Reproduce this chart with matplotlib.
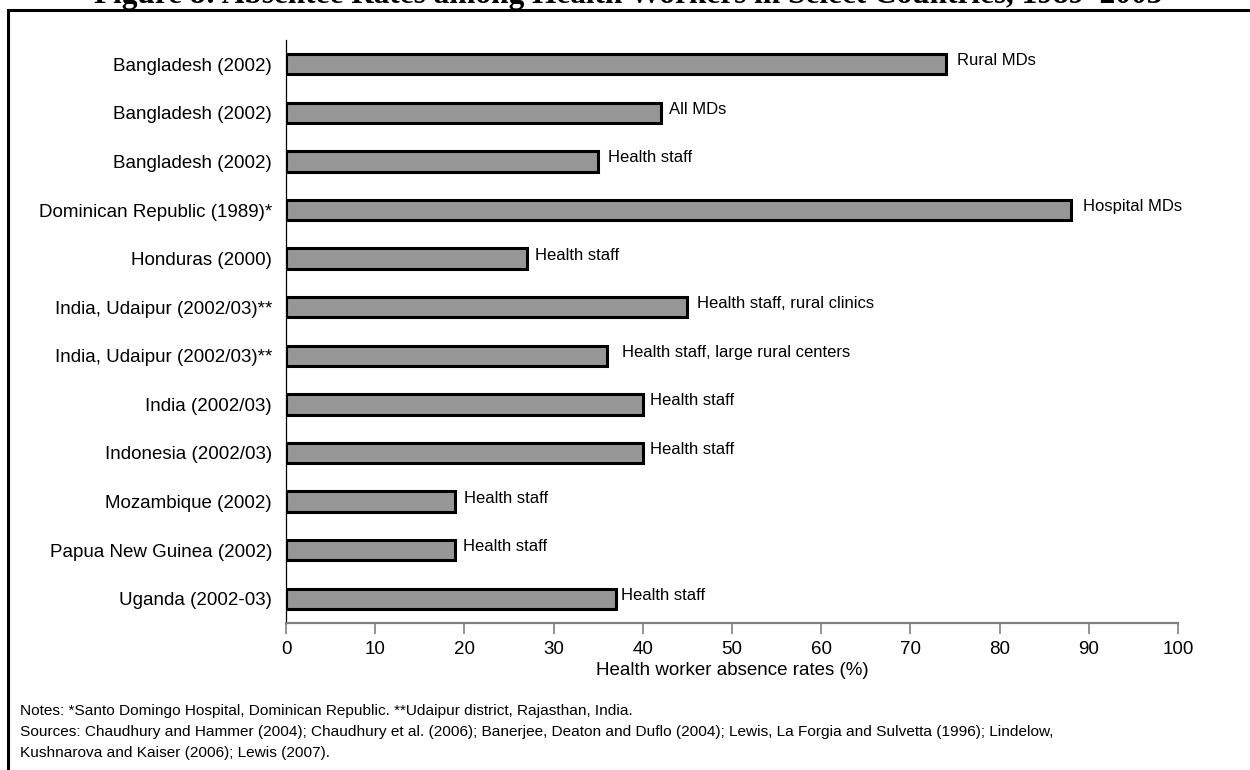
# Horizontal bar chart: health worker absence rates
import matplotlib.pyplot as plt
import matplotlib.patches as mpatches

plt.rcParams['font.family'] = ['Liberation Sans', 'DejaVu Sans']

countries = ['Bangladesh (2002)', 'Bangladesh (2002)', 'Bangladesh (2002)',
             'Dominican Republic (1989)*', 'Honduras (2000)',
             'India, Udaipur (2002/03)**', 'India, Udaipur (2002/03)**',
             'India (2002/03)', 'Indonesia (2002/03)', 'Mozambique (2002)',
             'Papua New Guinea (2002)', 'Uganda (2002-03)']
rates = [74, 42, 35, 88, 27, 45, 36, 40, 40, 19, 19, 37]
groups = ['Rural MDs', 'All MDs', 'Health staff', 'Hospital MDs', 'Health staff',
          'Health staff, rural clinics', 'Health staff, large rural centers',
          'Health staff', 'Health staff', 'Health staff', 'Health staff',
          'Health staff']
# small hand offsets of the labels (in pixels), as in the original
label_dx = [11, 8, 10, 12, 8, 10, 15, 7, 7, 9, 8, 5]

fig = plt.figure(figsize=(12.5, 7.7), dpi=100)
ax = fig.add_axes([286/1250, 1 - 623/770, (1178-286)/1250, (623-40)/770])

pos = list(range(len(countries)))
ax.barh(pos, rates, height=0.42, color='#969696', edgecolor='black',
        linewidth=2.2)
ax.set_ylim(len(countries) - 0.5, -0.5)
ax.set_xlim(0, 100)
ax.set_yticks(pos)
ax.set_yticklabels(countries, fontsize=13.5)
ax.set_xticks(range(0, 101, 10))
ax.tick_params(axis='x', labelsize=13.5, length=8, width=1.2, color='#808080',
               direction='out', pad=5)
ax.tick_params(axis='y', length=0, pad=10)

for i, (v, g) in enumerate(zip(rates, groups)):
    ax.annotate(g, (v, i), xytext=(label_dx[i] * 0.72, 2.5),
                textcoords='offset points', va='center', ha='left', fontsize=12)

for s in ['top', 'right']:
    ax.spines[s].set_visible(False)
ax.spines['left'].set_color('black')
ax.spines['left'].set_linewidth(0.9)
ax.spines['bottom'].set_color('#808080')
ax.spines['bottom'].set_linewidth(1.6)

ax.set_xlabel('Health worker absence rates (%)', fontsize=13.5, labelpad=3)

# outer frame (left and top only visible)
fig.add_artist(mpatches.Rectangle((8/1250, -0.1), 1.2, 1.1 - 10/770,
                                  transform=fig.transFigure, fill=False,
                                  edgecolor='black', linewidth=2.2))

fig.text(628/1250, 1 - 3/770,
         'Figure 8: Absentee Rates among Health Workers in Select Countries, 1989\u20132003',
         ha='center', va='baseline', fontsize=22.5, fontweight='bold',
         family='Liberation Serif')

fig.text(20/1250, 1 - 711/770,
         'Notes: *Santo Domingo Hospital, Dominican Republic. **Udaipur district, Rajasthan, India.',
         fontsize=11.1, va='center')
fig.text(20/1250, 1 - 732/770,
         'Sources: Chaudhury and Hammer (2004); Chaudhury et al. (2006); Banerjee, Deaton and Duflo (2004); '
         'Lewis, La Forgia and Sulvetta (1996); Lindelow,',
         fontsize=11.1, va='center')
fig.text(20/1250, 1 - 753/770, 'Kushnarova and Kaiser (2006); Lewis (2007).',
         fontsize=11.1, va='center')

fig.savefig('out.png', dpi=100)
